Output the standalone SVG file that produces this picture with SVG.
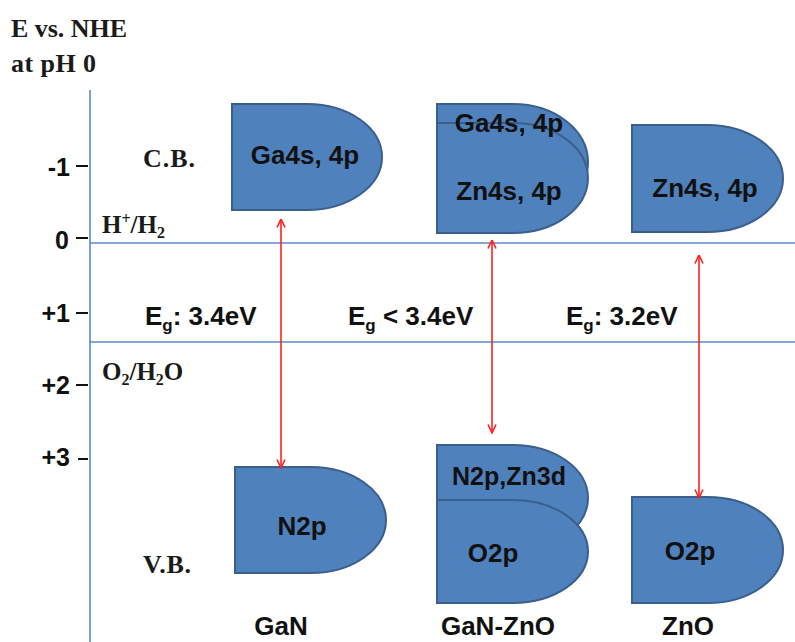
<svg xmlns="http://www.w3.org/2000/svg" width="795" height="642" viewBox="0 0 795 642">
<style>
.serif{font-family:"Liberation Serif","Times New Roman",serif;font-weight:bold;fill:#1a1a1a}
.sans{font-family:"Liberation Sans",Arial,sans-serif;font-weight:bold;fill:#111}
.band{fill:#4F81BD;stroke:#3A5F8C;stroke-width:2}
.grid{stroke:#5A88C8;stroke-width:1.6;fill:none}
.tick{stroke:#111;stroke-width:2}
.arr{stroke:#FF2020;stroke-width:1.6;fill:none;marker-start:url(#ah);marker-end:url(#ah)}
</style>
<defs>
<marker id="ah" viewBox="0 0 10 10" refX="9.5" refY="5" markerWidth="10" markerHeight="10" markerUnits="userSpaceOnUse" orient="auto-start-reverse">
<path d="M1,1 L9.5,5 L1,9" fill="none" stroke="#FF2020" stroke-width="1.6"/>
</marker>
</defs>
<rect width="795" height="642" fill="#fff"/>
<g id="axis">
<line class="grid" x1="90" y1="90" x2="90" y2="642"/>
<line class="grid" x1="90" y1="243" x2="795" y2="243"/>
<line class="grid" x1="90" y1="342" x2="795" y2="342"/>
<line class="tick" x1="76" y1="166" x2="88" y2="166"/>
<line class="tick" x1="76" y1="238" x2="88" y2="238"/>
<line class="tick" x1="76" y1="313" x2="88" y2="313"/>
<line class="tick" x1="76" y1="385" x2="88" y2="385"/>
<line class="tick" x1="78" y1="459" x2="88" y2="459"/>
<text class="sans" x="70" y="176" font-size="25" text-anchor="end">-1</text>
<text class="sans" x="69" y="249" font-size="25" text-anchor="end">0</text>
<text class="sans" x="70" y="322" font-size="25" text-anchor="end">+1</text>
<text class="sans" x="70" y="394" font-size="25" text-anchor="end">+2</text>
<text class="sans" x="70" y="466" font-size="25" text-anchor="end">+3</text>
<text class="serif" x="11" y="37" font-size="26" textLength="116">E vs. NHE</text>
<text class="serif" x="11" y="72" font-size="26" textLength="85">at pH 0</text>
<text class="serif" x="143" y="167" font-size="26" textLength="52">C.B.</text>
<text class="serif" x="143" y="573" font-size="26" textLength="48">V.B.</text>
<text class="serif" x="102" y="233" font-size="25">H<tspan font-size="16" dy="-9">+</tspan><tspan dy="9">/H</tspan><tspan font-size="16" dy="5">2</tspan></text>
<text class="serif" x="102" y="380" font-size="25">O<tspan font-size="16" dy="5">2</tspan><tspan dy="-5">/H</tspan><tspan font-size="16" dy="5">2</tspan><tspan dy="-5">O</tspan></text>
</g>
<g id="gan-cb">
<path class="band" d="M232,104 H307 A75,53 0 0 1 307,210 H232 Z"/>
<text class="sans" x="305" y="164" font-size="26" text-anchor="middle">Ga4s, 4p</text>
</g>
<g id="ganzno-cb">
<path class="band" d="M437,104 H513 A75,58 0 0 1 513,220 H437 Z"/>
<path class="band" d="M437,123 H513 A75,55 0 0 1 513,233 H437 Z"/>
<text class="sans" x="509" y="132" font-size="26" text-anchor="middle">Ga4s, 4p</text>
<text class="sans" x="509" y="200" font-size="26" text-anchor="middle">Zn4s, 4p</text>
</g>
<g id="zno-cb">
<path class="band" d="M632,125 H707 A76,53.5 0 0 1 707,232 H632 Z"/>
<text class="sans" x="705" y="197" font-size="26" text-anchor="middle">Zn4s, 4p</text>
</g>
<g id="gan-vb">
<path class="band" d="M235,467 H311 A75,53 0 0 1 311,573 H235 Z"/>
<text class="sans" x="302" y="535" font-size="26" text-anchor="middle">N2p</text>
</g>
<g id="ganzno-vb">
<path class="band" d="M437,445 H513 A75,53 0 0 1 513,551 H437 Z"/>
<path class="band" d="M437,500 H513 A75,51.5 0 0 1 513,603 H437 Z"/>
<text class="sans" x="509" y="485" font-size="25" text-anchor="middle">N2p,Zn3d</text>
<text class="sans" x="493" y="562" font-size="26" text-anchor="middle">O2p</text>
</g>
<g id="zno-vb">
<path class="band" d="M632,497 H708 A75,53 0 0 1 708,603 H632 Z"/>
<text class="sans" x="690" y="560" font-size="26" text-anchor="middle">O2p</text>
</g>
<g id="connectors">
<line class="arr" x1="281" y1="219" x2="281" y2="468"/>
<line class="arr" x1="492" y1="240" x2="492" y2="433"/>
<line class="arr" x1="699" y1="255" x2="699" y2="498"/>
</g>
<g id="labels">
<text class="sans" x="145" y="325" font-size="26">E<tspan font-size="17" dy="6">g</tspan><tspan dy="-6">: 3.4eV</tspan></text>
<text class="sans" x="348" y="325" font-size="26">E<tspan font-size="17" dy="6">g</tspan><tspan dy="-6"> &lt; 3.4eV</tspan></text>
<text class="sans" x="566" y="325" font-size="26">E<tspan font-size="17" dy="6">g</tspan><tspan dy="-6">: 3.2eV</tspan></text>
<text class="sans" x="281" y="635" font-size="26" text-anchor="middle">GaN</text>
<text class="sans" x="498" y="635" font-size="26" text-anchor="middle">GaN-ZnO</text>
<text class="sans" x="688" y="635" font-size="26" text-anchor="middle">ZnO</text>
</g>
</svg>
